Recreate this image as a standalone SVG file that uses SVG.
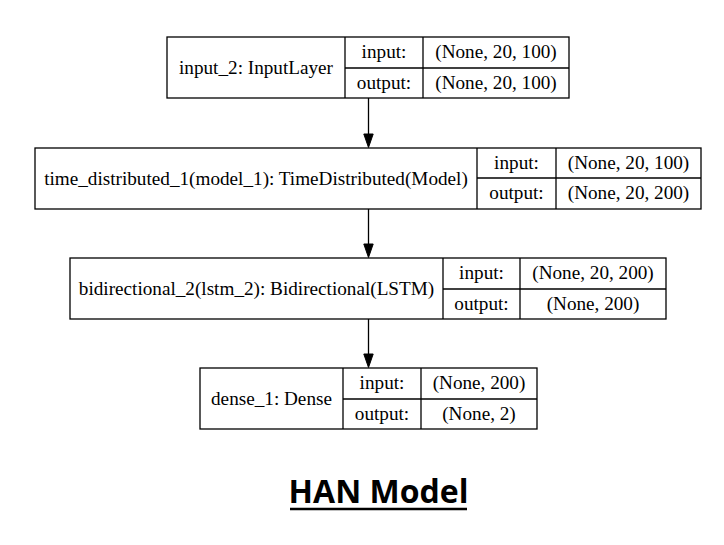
<svg xmlns="http://www.w3.org/2000/svg" width="724" height="545" viewBox="0 0 724 545">
<defs>
<style>
.box{fill:#fff;stroke:#000;stroke-width:1.3}
.ln{stroke:#000;stroke-width:1.3;fill:none}
.t{font-family:"Liberation Serif","Times New Roman",serif;font-size:19.2px;fill:#000;text-anchor:middle}
.title{font-family:"Open Sans","DejaVu Sans",sans-serif;font-size:32px;font-weight:bold;fill:#000;text-anchor:middle}
</style>
</defs>
<rect width="724" height="545" fill="#fff"/>
<g id="connectors">
<line class="ln" x1="368.5" y1="98" x2="368.5" y2="134"/>
<path d="M363.8,134 L373.2,134 L368.5,147.5 Z" fill="#000" stroke="#000" stroke-width="1"/>
<line class="ln" x1="368.5" y1="209" x2="368.5" y2="244"/>
<path d="M363.8,244 L373.2,244 L368.5,257.5 Z" fill="#000" stroke="#000" stroke-width="1"/>
<line class="ln" x1="368.5" y1="319" x2="368.5" y2="354"/>
<path d="M363.8,354 L373.2,354 L368.5,367.5 Z" fill="#000" stroke="#000" stroke-width="1"/>
</g>
<g id="input_2">
<rect class="box" x="167" y="37" width="402" height="61"/>
<line class="ln" x1="345" y1="37" x2="345" y2="98"/>
<line class="ln" x1="423" y1="37" x2="423" y2="98"/>
<line class="ln" x1="345" y1="68" x2="569" y2="68"/>
<text class="t" x="256" y="74">input_2: InputLayer</text>
<text class="t" x="384" y="58">input:</text>
<text class="t" x="384" y="88.5">output:</text>
<text class="t" x="496" y="58">(None, 20, 100)</text>
<text class="t" x="496" y="88.5">(None, 20, 100)</text>
</g>
<g id="time_distributed_1">
<rect class="box" x="35" y="148" width="666" height="61"/>
<line class="ln" x1="477" y1="148" x2="477" y2="209"/>
<line class="ln" x1="556" y1="148" x2="556" y2="209"/>
<line class="ln" x1="477" y1="178" x2="701" y2="178"/>
<text class="t" x="256" y="185">time_distributed_1(model_1): TimeDistributed(Model)</text>
<text class="t" x="516.5" y="169">input:</text>
<text class="t" x="516.5" y="199">output:</text>
<text class="t" x="628.5" y="169">(None, 20, 100)</text>
<text class="t" x="628.5" y="199">(None, 20, 200)</text>
</g>
<g id="bidirectional_2">
<rect class="box" x="70" y="258" width="596" height="61"/>
<line class="ln" x1="443" y1="258" x2="443" y2="319"/>
<line class="ln" x1="520" y1="258" x2="520" y2="319"/>
<line class="ln" x1="443" y1="289" x2="666" y2="289"/>
<text class="t" x="256.5" y="295">bidirectional_2(lstm_2): Bidirectional(LSTM)</text>
<text class="t" x="481.5" y="279">input:</text>
<text class="t" x="481.5" y="309.5">output:</text>
<text class="t" x="593" y="279">(None, 20, 200)</text>
<text class="t" x="593" y="309.5">(None, 200)</text>
</g>
<g id="dense_1">
<rect class="box" x="200" y="368" width="337" height="61"/>
<line class="ln" x1="343" y1="368" x2="343" y2="429"/>
<line class="ln" x1="421" y1="368" x2="421" y2="429"/>
<line class="ln" x1="343" y1="399" x2="537" y2="399"/>
<text class="t" x="271.5" y="405">dense_1: Dense</text>
<text class="t" x="382" y="389">input:</text>
<text class="t" x="382" y="419.5">output:</text>
<text class="t" x="479" y="389">(None, 200)</text>
<text class="t" x="479" y="419.5">(None, 2)</text>
</g>
<g id="title">
<text class="title" x="378.5" y="503">HAN Model</text>
<line x1="290" y1="509" x2="467" y2="509" stroke="#000" stroke-width="2.5"/>
</g>
</svg>
